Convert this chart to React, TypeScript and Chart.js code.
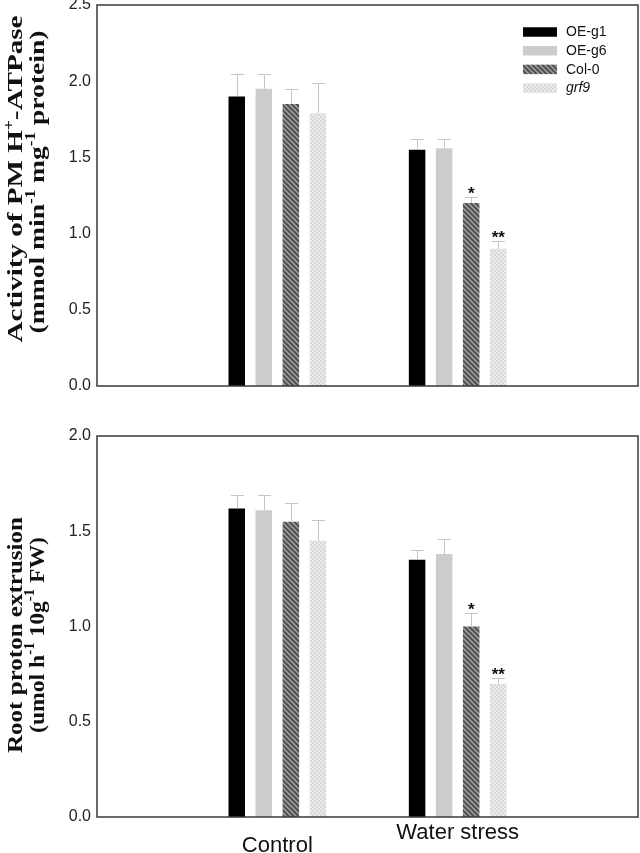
import React, { useEffect, useRef } from 'react';
import { Chart, registerables } from 'chart.js';

Chart.register(...registerables);

// ---------- data ----------
const categories = ['Control', 'Water stress'];
const seriesNames = ['OE-g1', 'OE-g6', 'Col-0', 'grf9'];

// Panel A: Activity of PM H+-ATPase
const atpaseOEg1 = [1.9, 1.55];
const atpaseOEg6 = [1.95, 1.56];
const atpaseCol0 = [1.85, 1.2];
const atpaseGrf9 = [1.79, 0.9];
const atpaseErrOEg1 = [0.15, 0.07];
const atpaseErrOEg6 = [0.1, 0.06];
const atpaseErrCol0 = [0.1, 0.04];
const atpaseErrGrf9 = [0.2, 0.05];
const atpaseSigCol0 = ['', '*'];
const atpaseSigGrf9 = ['', '**'];
const atpaseTicks = [0, 0.5, 1.0, 1.5, 2.0, 2.5];

// Panel B: Root proton extrusion
const protonOEg1 = [1.62, 1.35];
const protonOEg6 = [1.61, 1.38];
const protonCol0 = [1.55, 1.0];
const protonGrf9 = [1.45, 0.7];
const protonErrOEg1 = [0.07, 0.05];
const protonErrOEg6 = [0.08, 0.08];
const protonErrCol0 = [0.1, 0.07];
const protonErrGrf9 = [0.11, 0.03];
const protonSigCol0 = ['', '*'];
const protonSigGrf9 = ['', '**'];
const protonTicks = [0, 0.5, 1.0, 1.5, 2.0];

// axis titles: [text, isSuperscript]
const atpaseTitle1: [string, number][] = [['Activity of PM H', 0], ['+', 1], ['-ATPase', 0]];
const atpaseTitle2: [string, number][] = [['(mmol min', 0], ['-1', 1], [' mg', 0], ['-1', 1], [' protein)', 0]];
const protonTitle1: [string, number][] = [['Root proton extrusion', 0]];
const protonTitle2: [string, number][] = [['(umol h', 0], ['-1', 1], [' 10g', 0], ['-1', 1], [' FW)', 0]];

// ---------- styling helpers ----------
const SANS = "'Liberation Sans', Arial, sans-serif";
const SERIF = "'Liberation Serif', 'Times New Roman', serif";

function stripePattern(): CanvasPattern | string {
  const c = document.createElement('canvas');
  c.width = 5;
  c.height = 5;
  const g = c.getContext('2d');
  if (!g) return '#666';
  g.fillStyle = '#505050';
  g.fillRect(0, 0, 5, 5);
  g.strokeStyle = '#a9a9a9';
  g.lineWidth = 1.3;
  g.beginPath();
  g.moveTo(-1, -1);
  g.lineTo(6, 6);
  g.moveTo(-1, 4);
  g.lineTo(1, 6);
  g.moveTo(4, -1);
  g.lineTo(6, 1);
  g.stroke();
  return g.createPattern(c, 'repeat') || '#666';
}

function checkerPattern(): CanvasPattern | string {
  const c = document.createElement('canvas');
  c.width = 4;
  c.height = 4;
  const g = c.getContext('2d');
  if (!g) return '#e6e6e6';
  g.fillStyle = '#ececec';
  g.fillRect(0, 0, 4, 4);
  g.fillStyle = '#d8d8d8';
  g.fillRect(0, 0, 2, 2);
  g.fillRect(2, 2, 2, 2);
  return g.createPattern(c, 'repeat') || '#e6e6e6';
}

type TitleLine = { segs: [string, number][]; baseX: number; centerY: number; length: number };

function drawTitleLine(ctx: CanvasRenderingContext2D, line: TitleLine, size: number) {
  const supSize = size * 0.62;
  let total = 0;
  const widths: number[] = [];
  line.segs.forEach(([t, sup]) => {
    ctx.font = `bold ${sup ? supSize : size}px ${SERIF}`;
    const w = ctx.measureText(t).width;
    widths.push(w);
    total += w;
  });
  const sx = line.length / total;
  ctx.save();
  ctx.translate(line.baseX, line.centerY);
  ctx.rotate(-Math.PI / 2);
  ctx.scale(sx, 1);
  ctx.fillStyle = '#111';
  ctx.textAlign = 'left';
  ctx.textBaseline = 'alphabetic';
  let x = -total / 2;
  line.segs.forEach(([t, sup], i) => {
    ctx.font = `bold ${sup ? supSize : size}px ${SERIF}`;
    ctx.fillText(t, x, sup ? -size * 0.42 : 0);
    x += widths[i];
  });
  ctx.restore();
}

type PanelCfg = {
  errors: number[][];
  sig: string[][];
  titles: TitleLine[];
  legend: boolean;
  fills: (CanvasPattern | string)[];
};

function makeOverlay(cfg: PanelCfg) {
  return {
    id: 'overlay',
    afterDatasetsDraw(chart: any) {
      const ctx: CanvasRenderingContext2D = chart.ctx;
      const y = chart.scales.y;
      chart.data.datasets.forEach((ds: any, di: number) => {
        const meta = chart.getDatasetMeta(di);
        meta.data.forEach((bar: any, i: number) => {
          const v = ds.data[i];
          if (v == null) return;
          const e = cfg.errors[di][i - 1];
          const top = y.getPixelForValue(v + e);
          const x = Math.round(bar.x) + 0.5;
          ctx.save();
          ctx.strokeStyle = '#c6c6c6';
          ctx.lineWidth = 1;
          ctx.beginPath();
          ctx.moveTo(x, bar.y);
          ctx.lineTo(x, Math.round(top) + 0.5);
          ctx.moveTo(x - 6.5, Math.round(top) + 0.5);
          ctx.lineTo(x + 6.5, Math.round(top) + 0.5);
          ctx.stroke();
          const s = cfg.sig[di][i - 1];
          if (s) {
            ctx.fillStyle = '#111';
            ctx.font = `bold 17px ${SANS}`;
            ctx.textAlign = 'center';
            ctx.textBaseline = 'alphabetic';
            ctx.fillText(s, bar.x, top + 2);
          }
          ctx.restore();
        });
      });
    },
    afterDraw(chart: any) {
      const ctx: CanvasRenderingContext2D = chart.ctx;
      const a = chart.chartArea;
      ctx.save();
      ctx.strokeStyle = '#3a3a3a';
      ctx.lineWidth = 1.5;
      ctx.strokeRect(a.left, a.top, a.right - a.left, a.bottom - a.top);
      ctx.restore();

      cfg.titles.forEach((t) => drawTitleLine(ctx, t, 22));

      if (cfg.legend) {
        ctx.save();
        seriesNames.forEach((name, i) => {
          const cy = 32 + i * 18.7;
          ctx.fillStyle = cfg.fills[i] as any;
          ctx.fillRect(523, cy - 4.75, 34, 9.5);
          ctx.fillStyle = '#111';
          ctx.font = `${name === 'grf9' ? 'italic ' : ''}14px ${SANS}`;
          ctx.textAlign = 'left';
          ctx.textBaseline = 'middle';
          ctx.fillText(name, 566, cy + 0.5);
        });
        ctx.restore();
      }
    },
  };
}

function buildChart(
  canvas: HTMLCanvasElement,
  values: number[][],
  ticks: number[],
  cfg: PanelCfg,
  showX: boolean,
  padTop: number
) {
  const labels = ['', ...categories, ''];
  return new Chart(canvas, {
    type: 'bar',
    data: {
      labels,
      datasets: values.map((v, i) => ({
        label: seriesNames[i],
        data: [null, ...v, null] as any,
        backgroundColor: cfg.fills[i] as any,
        borderWidth: 0,
        categoryPercentage: 0.6,
        barPercentage: 0.61,
      })),
    },
    options: {
      responsive: false,
      animation: false,
      layout: { padding: { top: padTop, bottom: 0, left: 0, right: 2 } },
      plugins: { legend: { display: false }, tooltip: { enabled: false } },
      scales: {
        x: {
          display: showX,
          offset: false,
          grid: { display: false, drawTicks: false, tickLength: 0 },
          border: { display: false },
          ticks: {
            autoSkip: false,
            maxRotation: 0,
            minRotation: 0,
            padding: 3,
            color: '#111',
            font: (c: any) => ({ family: SANS, size: 22, lineHeight: c.index === 1 ? 2.34 : 1.2 }),
          },
          afterFit: (s: any) => {
            s.height = showX ? 36 : 14;
            s.paddingLeft = 0;
            s.paddingRight = 0;
          },
        },
        y: {
          min: ticks[0],
          max: ticks[ticks.length - 1],
          grid: { display: false, drawTicks: false, tickLength: 0 },
          border: { display: false },
          ticks: {
            stepSize: ticks[1] - ticks[0],
            padding: 6,
            color: '#222',
            font: { family: SANS, size: 16 },
            callback: (v: any) => Number(v).toFixed(1),
          },
          afterFit: (s: any) => {
            s.width = 97;
            s.paddingTop = 0;
            s.paddingBottom = 0;
          },
        },
      },
    },
    plugins: [makeOverlay(cfg)],
  } as any);
}

export default function App() {
  const topRef = useRef<HTMLCanvasElement>(null);
  const botRef = useRef<HTMLCanvasElement>(null);

  useEffect(() => {
    const fills = ['#000000', '#cccccf', stripePattern(), checkerPattern()];
    const top = buildChart(
      topRef.current!,
      [atpaseOEg1, atpaseOEg6, atpaseCol0, atpaseGrf9],
      atpaseTicks,
      {
        errors: [atpaseErrOEg1, atpaseErrOEg6, atpaseErrCol0, atpaseErrGrf9],
        sig: [['', ''], ['', ''], atpaseSigCol0, atpaseSigGrf9],
        titles: [
          { segs: atpaseTitle1, baseX: 22, centerY: 179, length: 327 },
          { segs: atpaseTitle2, baseX: 44, centerY: 182, length: 303 },
        ],
        legend: true,
        fills,
      },
      false,
      5
    );
    const bot = buildChart(
      botRef.current!,
      [protonOEg1, protonOEg6, protonCol0, protonGrf9],
      protonTicks,
      {
        errors: [protonErrOEg1, protonErrOEg6, protonErrCol0, protonErrGrf9],
        sig: [['', ''], ['', ''], protonSigCol0, protonSigGrf9],
        titles: [
          { segs: protonTitle1, baseX: 21.5, centerY: 225, length: 236 },
          { segs: protonTitle2, baseX: 43.5, centerY: 225, length: 196 },
        ],
        legend: false,
        fills,
      },
      true,
      26
    );
    return () => {
      top.destroy();
      bot.destroy();
    };
  }, []);

  return (
    <div style={{ position: 'absolute', left: 0, top: 0, width: 640, height: 853, background: '#fff', overflow: 'hidden' }}>
      <canvas ref={topRef} width={640} height={400} style={{ position: 'absolute', left: 0, top: 0, width: 640, height: 400 }} />
      <canvas ref={botRef} width={640} height={443} style={{ position: 'absolute', left: 0, top: 410, width: 640, height: 443 }} />
    </div>
  );
}
